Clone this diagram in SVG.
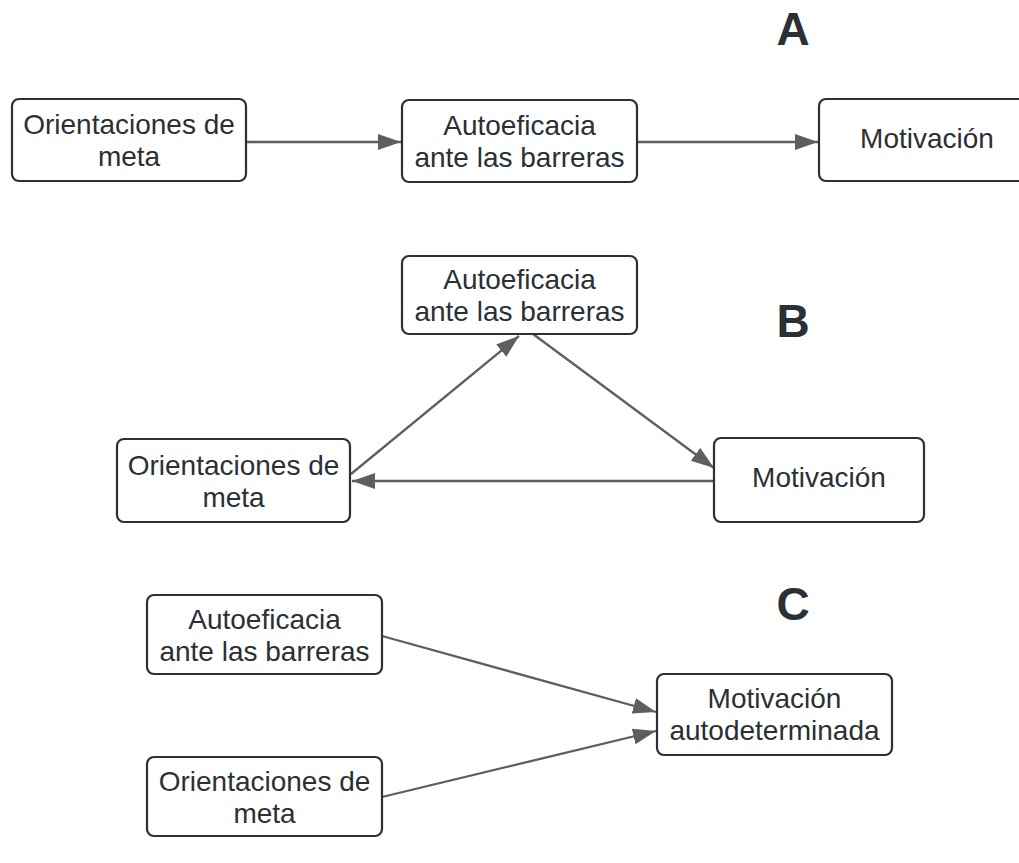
<svg xmlns="http://www.w3.org/2000/svg" width="1019" height="863" viewBox="0 0 1019 863">
<defs>
<style>
.box{fill:#ffffff;stroke:#2b2f36;stroke-width:2.2}
.t{font-family:"Liberation Sans",Arial,sans-serif;font-size:28px;fill:#2b2f36;text-anchor:middle}
.lbl{font-family:"Liberation Sans",Arial,sans-serif;font-size:46px;font-weight:bold;fill:#2b2f36;text-anchor:middle}
.edge{fill:none;stroke:#5e5e5e;stroke-width:2.3;marker-end:url(#ah)}
</style>
<marker id="ah" markerUnits="userSpaceOnUse" markerWidth="24" markerHeight="17" refX="23" refY="8" orient="auto">
<path d="M0,0 L23,8 L0,16 z" fill="#5e5e5e"/>
</marker>
</defs>
<rect width="1019" height="863" fill="#ffffff"/>
<text class="lbl" x="793" y="45">A</text>
<text class="lbl" x="793" y="337">B</text>
<text class="lbl" x="793" y="620">C</text>
<g id="connectors">
<line class="edge" x1="246" y1="142" x2="401" y2="142"/>
<line class="edge" x1="637" y1="142" x2="818" y2="142"/>
<line class="edge" x1="351" y1="474" x2="519" y2="336"/>
<line class="edge" x1="533" y1="334" x2="714" y2="468"/>
<line class="edge" x1="714" y1="481" x2="352" y2="481"/>
<line class="edge" x1="382" y1="636" x2="656" y2="712"/>
<line class="edge" x1="382" y1="797" x2="656" y2="731"/>
</g>
<g id="a-orientaciones">
<rect class="box" x="12" y="99" width="234" height="82" rx="7"/>
<text class="t" x="129" y="134">Orientaciones de</text>
<text class="t" x="129" y="166">meta</text>
</g>
<g id="a-autoeficacia">
<rect class="box" x="402" y="100" width="235" height="82" rx="7"/>
<text class="t" x="519.5" y="135">Autoeficacia</text>
<text class="t" x="519.5" y="167">ante las barreras</text>
</g>
<g id="a-motivacion">
<rect class="box" x="819" y="99" width="216" height="82" rx="7"/>
<text class="t" x="927" y="148">Motivación</text>
</g>
<g id="b-autoeficacia">
<rect class="box" x="402" y="256" width="235" height="78" rx="7"/>
<text class="t" x="519.5" y="289">Autoeficacia</text>
<text class="t" x="519.5" y="321">ante las barreras</text>
</g>
<g id="b-orientaciones">
<rect class="box" x="117" y="439" width="233" height="83" rx="7"/>
<text class="t" x="233.5" y="475">Orientaciones de</text>
<text class="t" x="233.5" y="507">meta</text>
</g>
<g id="b-motivacion">
<rect class="box" x="714" y="438" width="210" height="84" rx="7"/>
<text class="t" x="819" y="487">Motivación</text>
</g>
<g id="c-autoeficacia">
<rect class="box" x="147" y="595" width="235" height="79" rx="7"/>
<text class="t" x="264.5" y="629">Autoeficacia</text>
<text class="t" x="264.5" y="661">ante las barreras</text>
</g>
<g id="c-orientaciones">
<rect class="box" x="147" y="757" width="235" height="79" rx="7"/>
<text class="t" x="264.5" y="791">Orientaciones de</text>
<text class="t" x="264.5" y="823">meta</text>
</g>
<g id="c-motivacion">
<rect class="box" x="657" y="674" width="235" height="81" rx="7"/>
<text class="t" x="774.5" y="708">Motivación</text>
<text class="t" x="774.5" y="740">autodeterminada</text>
</g>
</svg>
